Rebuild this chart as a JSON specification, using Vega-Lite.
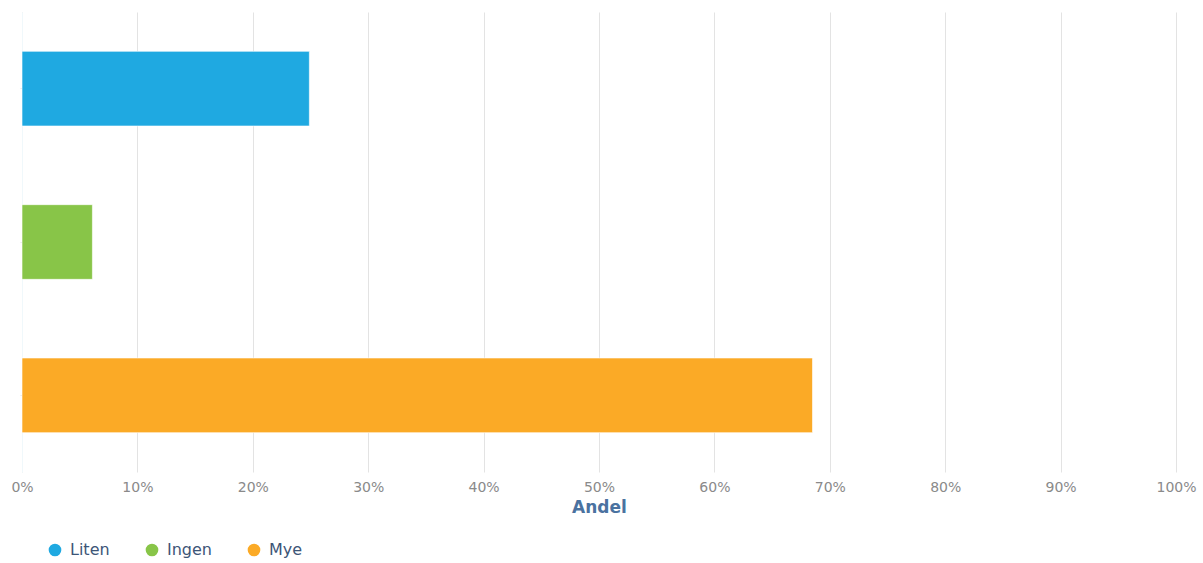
{
  "$schema": "https://vega.github.io/schema/vega-lite/v6.json",
  "width": 1154,
  "height": 460,
  "padding": {"left": 10, "top": 12, "right": 5, "bottom": 5},
  "autosize": {"type": "pad"},
  "background": "white",
  "config": {
    "view": {"stroke": null},
    "font": "DejaVu Sans"
  },
  "data": {
    "values": [
      {"kategori": "Liten", "andel": 0.249},
      {"kategori": "Ingen", "andel": 0.061},
      {"kategori": "Mye", "andel": 0.685}
    ]
  },
  "mark": {"type": "bar", "stroke": "#ffffff", "strokeOpacity": 0.6, "strokeWidth": 1},
  "encoding": {
    "y": {
      "field": "kategori",
      "type": "nominal",
      "sort": ["Liten", "Ingen", "Mye"],
      "scale": {"paddingInner": 0.513, "paddingOuter": 0.2565},
      "axis": {"labels": false, "title": null, "ticks": true, "tickSize": 2, "tickColor": "#e6e6e6", "domain": true, "domainColor": "#f0f8fb", "grid": false, "labelPadding": 0}
    },
    "x": {
      "field": "andel",
      "type": "quantitative",
      "scale": {"domain": [0, 1], "nice": false},
      "axis": {
        "format": ".0%",
        "values": [0, 0.1, 0.2, 0.3, 0.4, 0.5, 0.6, 0.7, 0.8, 0.9, 1],
        "title": "Andel",
        "titleFont": "DejaVu Sans",
        "titleFontSize": 17,
        "titleFontWeight": "bold",
        "titleColor": "#4a72a0",
        "titlePadding": 5,
        "labelFontSize": 14,
        "labelColor": "#8a8a8a",
        "labelPadding": 8,
        "domain": false,
        "ticks": false,
        "grid": true,
        "gridColor": "#e3e3e3",
        "labelFlush": false
      }
    },
    "color": {
      "field": "kategori",
      "type": "nominal",
      "sort": ["Liten", "Ingen", "Mye"],
      "scale": {"domain": ["Liten", "Ingen", "Mye"], "range": ["#1fa9e1", "#88c548", "#fbaa26"]},
      "legend": {
        "orient": "none",
        "legendX": 25,
        "legendY": 530,
        "direction": "horizontal",
        "title": null,
        "symbolType": "circle",
        "symbolSize": 160,
        "symbolStrokeWidth": 0,
        "labelFontSize": 16,
        "labelColor": "#3d5577",
        "labelOffset": 7,
        "columnPadding": 34
      }
    }
  }
}
